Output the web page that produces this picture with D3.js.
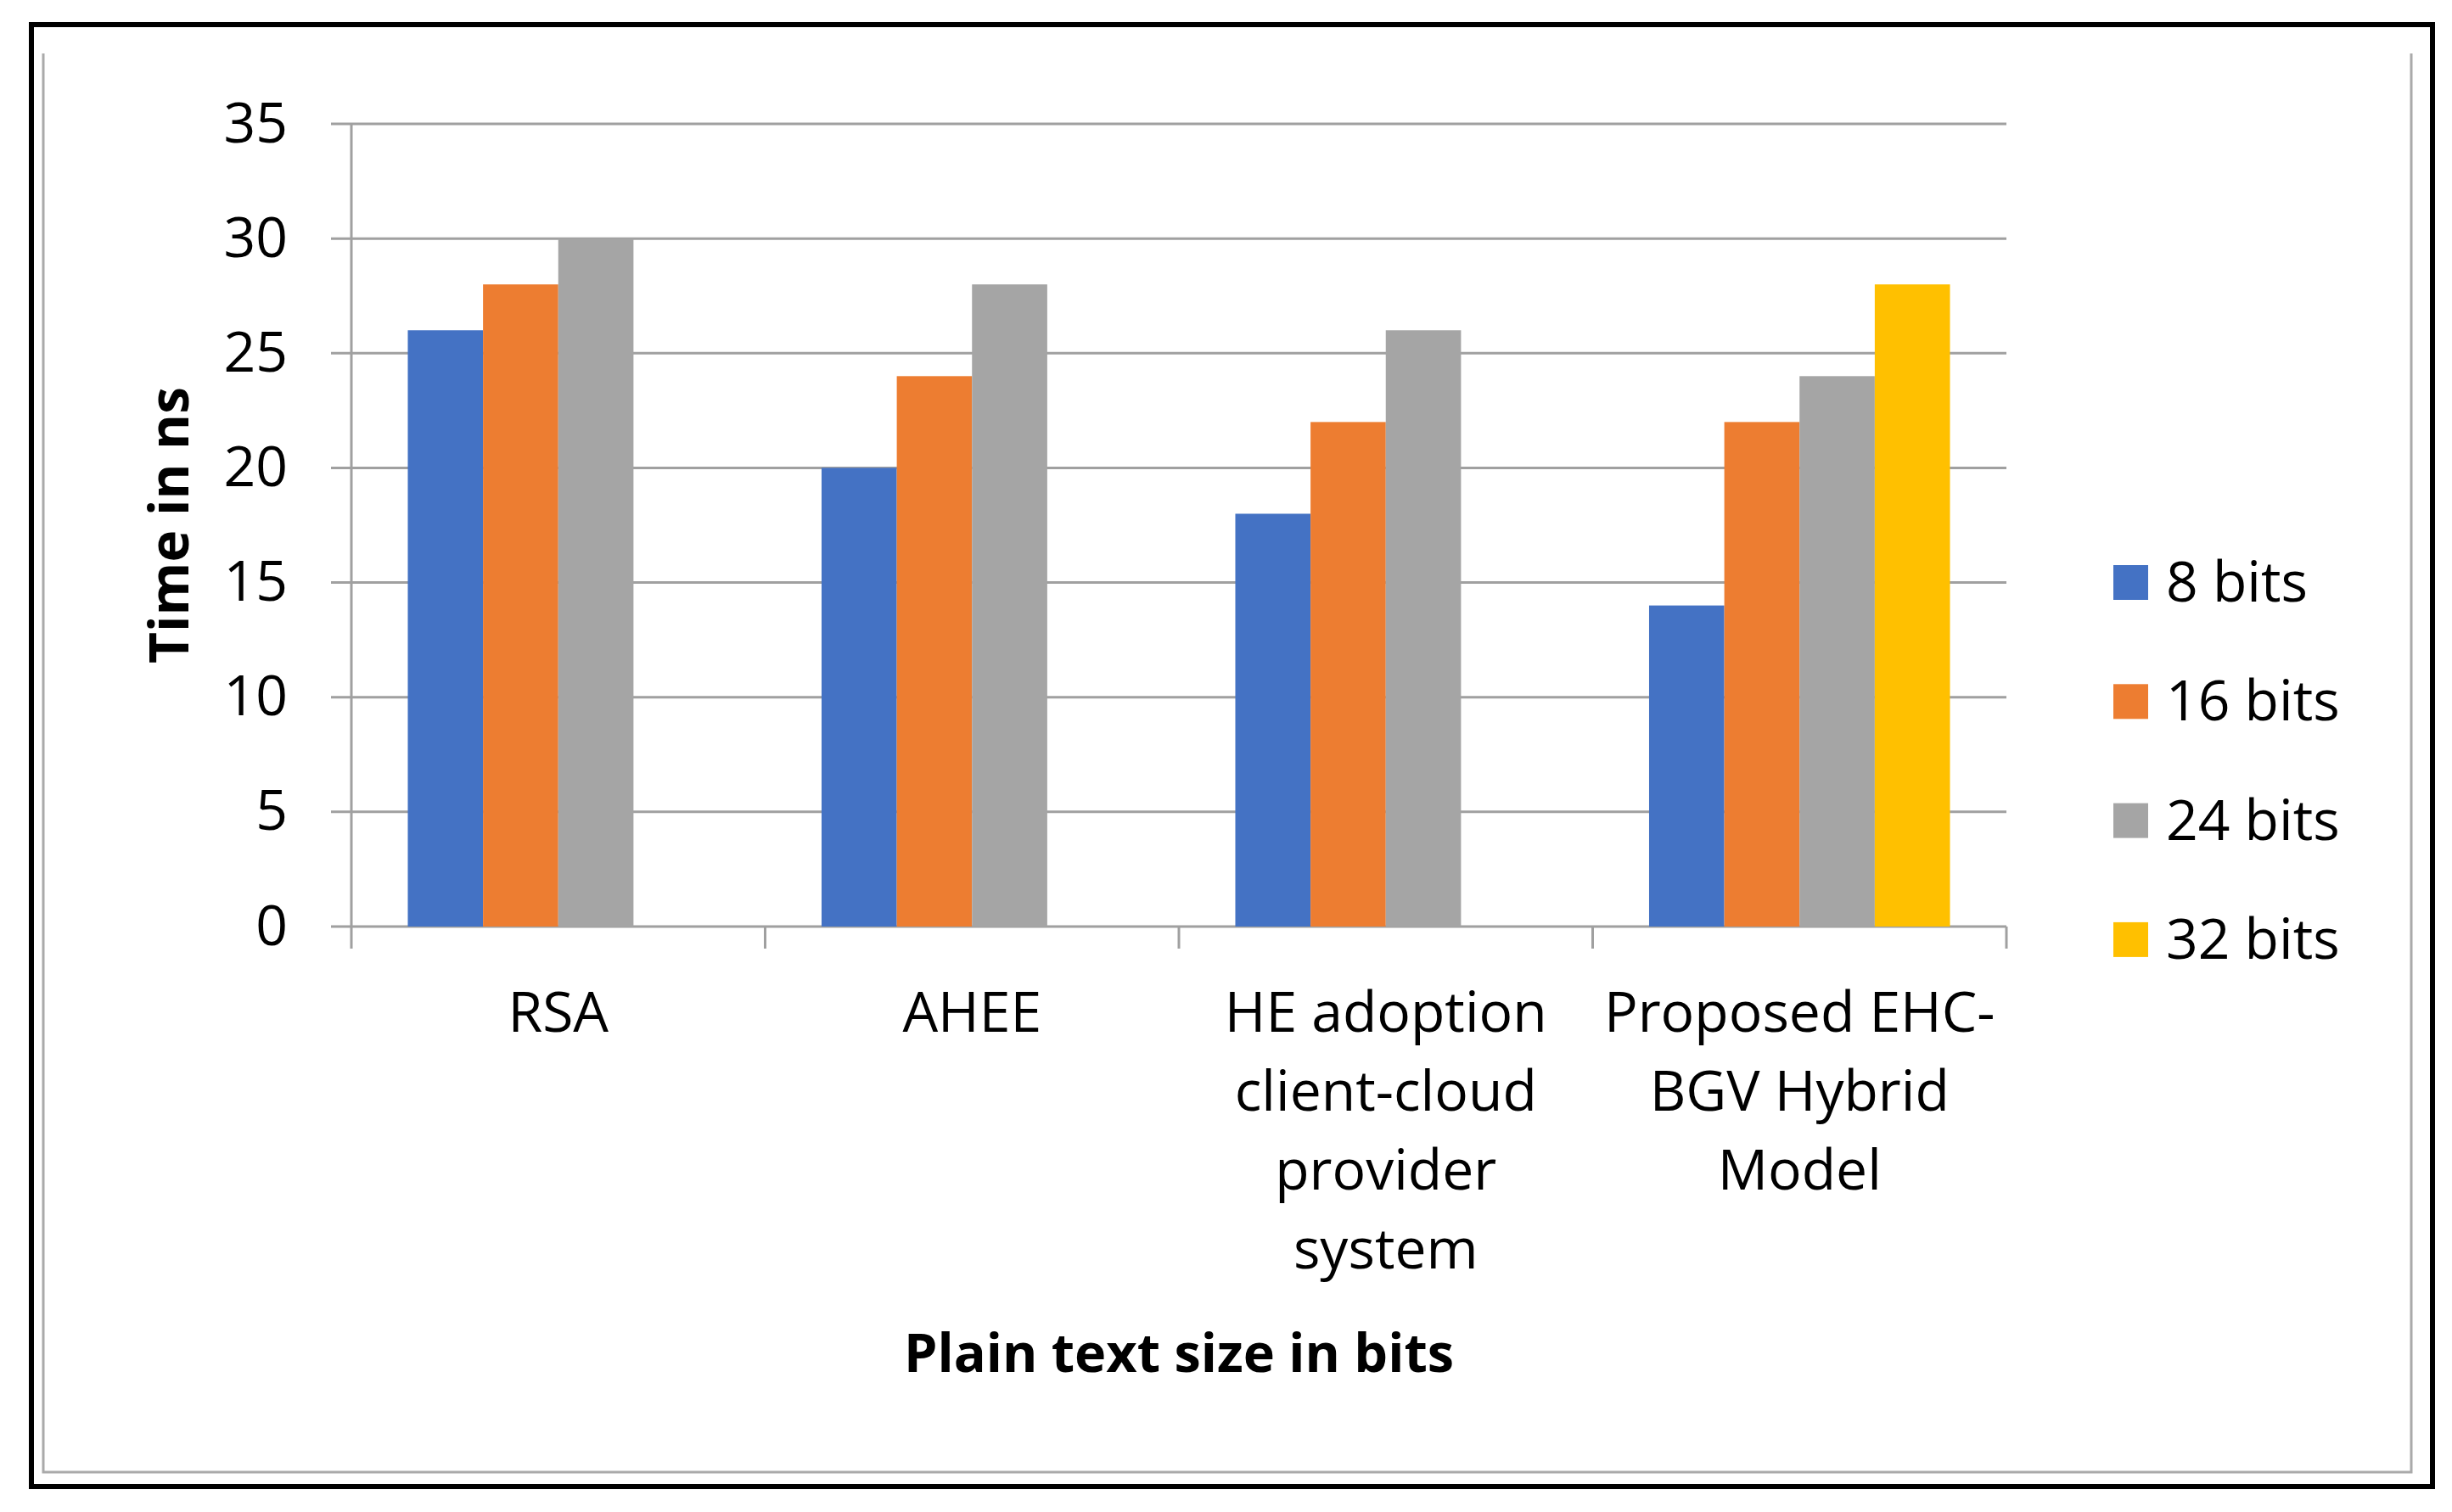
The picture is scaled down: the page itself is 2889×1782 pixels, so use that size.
<!DOCTYPE html>
<html>
<head>
<meta charset="utf-8">
<script src="https://cdn.jsdelivr.net/npm/d3@7"></script>
<style>
  body { margin: 0; background: #fff; }
  text { font-family: "Open Sans", sans-serif; fill: #000; }
</style>
</head>
<body>
<svg width="2889" height="1782"></svg>
<script>
// chart data
const categories = ["RSA", "AHEE", "HE adoption client-cloud provider system", "Proposed EHC-BGV Hybrid Model"];
const categoryLines = [
  ["RSA"],
  ["AHEE"],
  ["HE adoption", "client-cloud", "provider", "system"],
  ["Proposed EHC-", "BGV Hybrid", "Model"]
];
const series = ["8 bits", "16 bits", "24 bits", "32 bits"];
const bits8 = [26, 20, 18, 14];
const bits16 = [28, 24, 22, 22];
const bits24 = [30, 28, 26, 24];
const bits32 = [null, null, null, 28];
const yTicks = [0, 5, 10, 15, 20, 25, 30, 35];
const colors = ["#4472C4", "#ED7D31", "#A5A5A5", "#FFC000"];

const values = [bits8, bits16, bits24, bits32];

const svg = d3.select("svg");

// frame
svg.append("rect")
  .attr("x", 37).attr("y", 29)
  .attr("width", 2829).attr("height", 1723)
  .attr("fill", "#fff")
  .attr("stroke", "#000")
  .attr("stroke-width", 6);

svg.append("path")
  .attr("d", "M51,63 V1735 H2841 V63")
  .attr("fill", "none")
  .attr("stroke", "#aaa")
  .attr("stroke-width", 3);

const plotLeft = 414, plotRight = 2364, plotTop = 146, plotBottom = 1092;

let y = d3.scaleLinear().domain([0, 35]).range([plotBottom, plotTop]);
let x0 = d3.scaleBand().domain(categories).range([plotLeft, plotRight]).padding(0);
let gap = x0.bandwidth() * 1.5 / 5.5;
let x1 = d3.scaleBand().domain(series).range([gap / 2, x0.bandwidth() - gap / 2]).padding(0);

// gridlines
svg.append("g")
  .selectAll("line")
  .data(yTicks)
  .enter()
  .append("line")
  .attr("x1", plotLeft - 24)
  .attr("x2", plotRight)
  .attr("y1", d => y(d))
  .attr("y2", d => y(d))
  .attr("stroke", "#a0a0a0")
  .attr("stroke-width", 3);

// y axis labels
let yAxis = d3.axisLeft(y).tickValues(yTicks).tickSize(24).tickPadding(51);
let yg = svg.append("g").attr("transform", `translate(${plotLeft},0)`).call(yAxis);
yg.select(".domain").remove();
yg.selectAll(".tick line").remove();
yg.selectAll(".tick text")
  .attr("font-family", "Open Sans")
  .attr("font-size", 66)
  .attr("fill", "#000");

// y axis line, extends down to category tick
svg.append("line")
  .attr("x1", plotLeft).attr("x2", plotLeft)
  .attr("y1", plotTop).attr("y2", plotBottom + 26)
  .attr("stroke", "#a0a0a0")
  .attr("stroke-width", 3);

// category ticks
let bounds = categories.map(c => x0(c)).concat([plotRight]);
svg.append("g")
  .selectAll("line")
  .data(bounds.slice(1))
  .enter()
  .append("line")
  .attr("x1", d => d).attr("x2", d => d)
  .attr("y1", plotBottom).attr("y2", plotBottom + 26)
  .attr("stroke", "#a0a0a0")
  .attr("stroke-width", 3);

// bars
series.forEach((s, i) => {
  svg.append("g")
    .selectAll("rect")
    .data(categories.map((c, j) => ({ c: c, v: values[i][j] })).filter(d => d.v !== null))
    .enter()
    .append("rect")
    .attr("x", d => x0(d.c) + x1(s))
    .attr("y", d => y(d.v))
    .attr("width", x1.bandwidth())
    .attr("height", d => y(0) - y(d.v))
    .attr("fill", colors[i]);
});

// category labels
categories.forEach((c, j) => {
  let t = svg.append("text")
    .attr("x", x0(c) + x0.bandwidth() / 2)
    .attr("y", 1216)
    .attr("text-anchor", "middle")
    .attr("font-size", 66);
  categoryLines[j].forEach((line, k) => {
    t.append("tspan")
      .attr("x", x0(c) + x0.bandwidth() / 2)
      .attr("y", 1216 + k * 93)
      .text(line);
  });
});

// axis titles
svg.append("text")
  .attr("x", (plotLeft + plotRight) / 2)
  .attr("y", 1617)
  .attr("text-anchor", "middle")
  .attr("font-size", 63)
  .attr("font-weight", "bold")
  .text("Plain text size in bits");

svg.append("text")
  .attr("transform", `translate(222,${(plotTop + plotBottom) / 2}) rotate(-90)`)
  .attr("text-anchor", "middle")
  .attr("font-size", 64)
  .attr("font-weight", "bold")
  .text("Time in ns");

// legend
let legend = svg.append("g")
  .selectAll("g")
  .data(series)
  .enter()
  .append("g")
  .attr("transform", (d, i) => `translate(2490,${666 + i * 140.3})`);

legend.append("rect")
  .attr("width", 41).attr("height", 41)
  .attr("fill", (d, i) => colors[i]);

legend.append("text")
  .attr("x", 62)
  .attr("y", 43)
  .attr("font-size", 66)
  .text(d => d);
</script>
</body>
</html>
